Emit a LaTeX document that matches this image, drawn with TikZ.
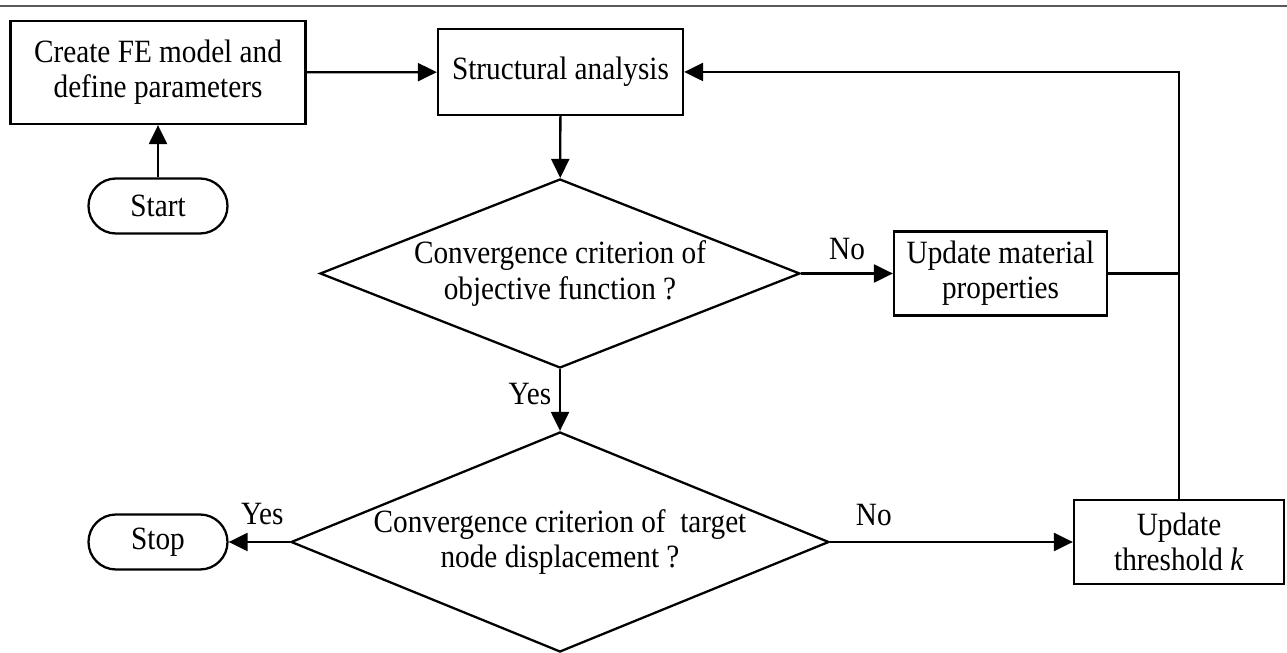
\documentclass[tikz,border=0pt]{standalone}
\usepackage{fontspec}
\setmainfont{Liberation Serif}[FakeStretch=0.9]
\usepackage{tikz}
\usetikzlibrary{arrows.meta,calc,positioning,shapes.geometric}
\usepackage{xcolor}
\definecolor{rulegray}{gray}{0.35}

\begin{document}
\begin{tikzpicture}[font=\fontsize{18.5}{20}\selectfont,line width=1.3pt,
  box/.style={draw,rectangle,align=center,inner sep=0pt},
  term/.style={draw,rectangle,rounded corners=0.55cm,inner sep=0pt,minimum width=2.78cm,minimum height=1.1cm},
  dec/.style={draw,diamond,align=center,inner sep=0pt},
  arr/.style={-{Triangle[length=0.38cm,width=0.36cm]}}]
  \useasboundingbox (0,0) rectangle (25.74,-13.06);
  \draw[rulegray,line width=1pt] (0,-0.12)--(25.74,-0.12);
  % boxes
  \node[box,minimum width=5.9cm,minimum height=2.06cm](fe)at(3.16,-1.45){Create FE model and\\define parameters};
  \node[term](start)at(3.16,-4.12){Start};
  \node[box,minimum width=4.9cm,minimum height=1.72cm](sa)at(11.21,-1.44){Structural analysis};
  \node[dec,aspect=2.54,minimum width=9.6cm,minimum height=3.78cm](conv1)at(11.2,-5.47){Convergence criterion of\\objective function ?};
  \node[box,minimum width=4.26cm,minimum height=1.68cm](upmat)at(20.01,-5.47){Update material\\properties};
  \node[dec,aspect=2.445,minimum width=10.76cm,minimum height=4.4cm](conv2)at(11.2,-10.84){Convergence criterion of~~target\\node displacement ?};
  \node[term](stop)at(3.16,-10.84){Stop};
  \node[box,minimum width=4.2cm,minimum height=1.68cm](upk)at(23.58,-10.84){Update\\threshold \textit{k}};
  \coordinate(loop)at(upk|-sa);\coordinate(join)at(upk|-upmat);
  % connectors
  \draw[arr] (start)--(fe);
  \draw[arr] (fe)--(sa);
  \draw[arr] (sa)--(conv1);
  \draw[arr] (conv1.east)--node[above=4pt]{No}(upmat);
  \draw[arr] (conv1.south)--node[left=1pt,pos=0.4]{Yes}(conv2.north);
  \draw[arr] (conv2.west)--node[above=6pt,pos=0.45]{Yes}(stop);
  \draw[arr] (conv2.east)--node[above=5pt,pos=0.18]{No}(upk);
  \draw[arr] (upk.north)--(loop)--(sa.east);
  \draw (upmat.east)--(join);
\end{tikzpicture}
\end{document}
